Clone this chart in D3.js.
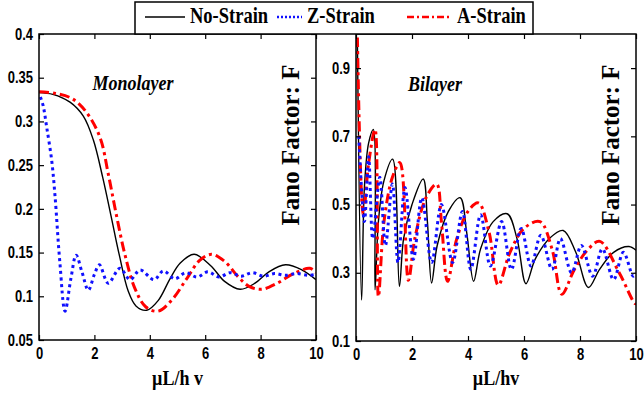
<!DOCTYPE html>
<html>
<head>
  <title>Fano factor: monolayer and bilayer</title>
  <script src="https://d3js.org/d3.v7.min.js"></script>
  <style>
    body { margin: 0; background: #fff; }
    svg { display: block; }
  </style>
</head>
<body>
<svg id="chart" width="644" height="403"></svg>
<script type="text/javascript">

  // ---- data ----
  var xTicks = [0, 2, 4, 6, 8, 10];
  var monoYTicks = [0.05, 0.1, 0.15, 0.2, 0.25, 0.3, 0.35, 0.4];
  var biYTicks = [0.1, 0.3, 0.5, 0.7, 0.9];
  var seriesNames = ["No-Strain", "Z-Strain", "A-Strain"];

  // monolayer, [x, F]
  var monoNoStrain = [[0,0.333],[0.5,0.331],[1.12,0.322],[1.6,0.306],[1.96,0.279],[2.3,0.236],
    [2.6,0.192],[2.9,0.147],[3.22,0.106],[3.5,0.089],[3.89,0.084],[4.3,0.095],[4.73,0.12],
    [5.1,0.138],[5.6,0.148],[6.2,0.135],[6.7,0.117],[7.26,0.108],[7.8,0.115],[8.3,0.128],
    [8.9,0.136],[9.5,0.13],[10,0.119]];
  var monoZStrain = [[0.05,0.328],[0.15,0.318],[0.28,0.293],[0.46,0.255],[0.58,0.214],[0.75,0.14],
    [0.94,0.083],[1.15,0.12],[1.34,0.147],[1.55,0.128],[1.78,0.107],[2.0,0.125],[2.18,0.136],
    [2.5,0.115],[2.92,0.132],[3.29,0.119],[3.65,0.13],[4.15,0.119],[4.49,0.129],[4.9,0.12],
    [5.3,0.127],[5.7,0.122],[6.1,0.128],[6.5,0.122],[6.9,0.127],[7.3,0.123],[7.7,0.127],
    [8.1,0.123],[8.5,0.126],[8.9,0.124],[9.3,0.126],[9.7,0.124],[10,0.125]];
  var monoAStrain = [[0,0.334],[0.6,0.332],[1.2,0.326],[1.7,0.311],[2.2,0.282],[2.5,0.24],
    [2.8,0.192],[3.1,0.148],[3.45,0.11],[3.85,0.088],[4.3,0.083],[4.8,0.096],[5.33,0.12],
    [5.8,0.141],[6.23,0.148],[6.7,0.14],[7.2,0.122],[7.6,0.111],[8.04,0.108],[8.6,0.115],
    [9.2,0.126],[9.78,0.132],[10,0.127]];

  // bilayer, [x, F]
  var biNoStrain = [[0.05,0.98],[0.2,0.22],[0.3,0.55],[0.45,0.68],[0.62,0.72],[0.68,0.25],
    [0.8,0.45],[1.0,0.57],[1.31,0.633],[1.55,0.26],[1.7,0.4],[2.0,0.5],[2.4,0.575],[2.55,0.45],
    [2.7,0.27],[2.9,0.38],[3.3,0.48],[3.72,0.52],[3.95,0.42],[4.2,0.275],[4.45,0.37],[4.9,0.45],
    [5.4,0.473],[5.75,0.4],[6.07,0.268],[6.4,0.34],[6.9,0.4],[7.4,0.424],[7.85,0.36],[8.3,0.257],
    [8.7,0.31],[9.2,0.36],[9.75,0.377],[10,0.366]];
  var biZStrain = [[0.1,0.7],[0.3,0.45],[0.45,0.64],[0.6,0.4],[0.85,0.58],[1.05,0.38],[1.3,0.56],
    [1.5,0.33],[1.75,0.55],[2.05,0.34],[2.35,0.52],[2.7,0.33],[3.05,0.5],[3.45,0.33],[3.8,0.48],
    [4.1,0.31],[4.45,0.47],[4.8,0.32],[5.2,0.45],[5.55,0.31],[5.9,0.43],[6.25,0.32],[6.6,0.41],
    [7.0,0.31],[7.3,0.4],[7.7,0.3],[8.05,0.38],[8.45,0.29],[8.8,0.37],[9.2,0.28],[9.55,0.36],
    [9.9,0.29],[10,0.3]];
  var biAStrain = [[0.05,0.99],[0.26,0.47],[0.45,0.62],[0.68,0.72],[0.8,0.23],[1.0,0.45],[1.3,0.58],
    [1.57,0.623],[1.87,0.278],[2.1,0.4],[2.5,0.52],[2.88,0.56],[3.05,0.45],[3.27,0.275],[3.6,0.4],
    [4.0,0.48],[4.37,0.505],[4.75,0.42],[5.08,0.264],[5.5,0.36],[6.0,0.43],[6.57,0.45],[7.0,0.37],
    [7.35,0.237],[7.8,0.31],[8.3,0.37],[8.71,0.392],[9.4,0.3],[9.96,0.21],[10,0.21]];

  var serif = "'Liberation Serif', 'Times New Roman', serif";
  var sans = "'Liberation Sans', Arial, sans-serif";

  var styles = {
    "No-Strain": { color: "#000", width: 1.4, dash: null },
    "Z-Strain": { color: "#1010ff", width: 3, dash: "3,3.5" },
    "A-Strain": { color: "#ff0000", width: 3, dash: "10,4,3,4" }
  };

  var svg = d3.select("#chart");

  // text with a slight vertical stretch, the original figure is squashed sideways
  function label(g, x, y, str, size, opts) {
    opts = opts || {};
    var t = g.append("text")
      .attr("transform", "translate(" + x + "," + y + ") scale(1," + (opts.sy || 1.2) + ")" +
        (opts.rotate ? " rotate(" + opts.rotate + ")" : ""))
      .attr("text-anchor", opts.anchor || "middle")
      .style("font-family", opts.family || serif)
      .style("font-weight", "bold")
      .style("font-size", size + "px")
      .text(str);
    if (opts.italic) t.style("font-style", "italic");
    return t;
  }

  function panel(id, box, yDomain, yTicks, yFmt, series, title, xTitle) {
    var x = d3.scaleLinear().domain([0, 10]).range([box.left, box.right]);
    var y = d3.scaleLinear().domain(yDomain).range([box.bottom, box.top]);
    var g = svg.append("g");

    g.append("clipPath").attr("id", "clip-" + id)
      .append("rect")
      .attr("x", box.left).attr("y", box.top)
      .attr("width", box.right - box.left).attr("height", box.bottom - box.top);

    var line = d3.line()
      .x(function(d) { return x(d[0]); })
      .y(function(d) { return y(d[1]); })
      .curve(d3.curveCatmullRom.alpha(0.5));

    var lines = g.append("g").attr("clip-path", "url(#clip-" + id + ")");
    series.forEach(function(s) {
      var st = styles[s.name];
      lines.append("path")
        .datum(s.values)
        .attr("d", line)
        .attr("fill", "none")
        .attr("stroke", st.color)
        .attr("stroke-width", st.width)
        .attr("stroke-dasharray", st.dash);
    });

    // frame with inward ticks on all sides
    var bottom = g.append("g").attr("transform", "translate(0," + box.bottom + ")")
      .call(d3.axisBottom(x).tickValues(xTicks).tickSize(-5).tickPadding(6).tickFormat(d3.format("d")));
    g.append("g").attr("transform", "translate(0," + box.top + ")")
      .call(d3.axisTop(x).tickValues(xTicks).tickSize(-5).tickFormat(""));
    var left = g.append("g").attr("transform", "translate(" + box.left + ",0)")
      .call(d3.axisLeft(y).tickValues(yTicks).tickSize(-5).tickPadding(6).tickFormat(yFmt));
    g.append("g").attr("transform", "translate(" + box.right + ",0)")
      .call(d3.axisRight(y).tickValues(yTicks).tickSize(-5).tickFormat(""));

    g.selectAll(".domain").remove();
    g.selectAll(".tick line").attr("stroke", "#000").attr("stroke-width", 1.2);
    [bottom, left].forEach(function(a) {
      a.selectAll("text")
        .attr("transform", "scale(1,1.25)")
        .style("font-family", sans)
        .style("font-weight", "bold")
        .style("font-size", "13px")
        .attr("fill", "#000");
    });

    g.append("rect")
      .attr("x", box.left).attr("y", box.top)
      .attr("width", box.right - box.left).attr("height", box.bottom - box.top)
      .attr("fill", "none").attr("stroke", "#000").attr("stroke-width", 1.5);

    label(g, title.x, title.y, title.text, 18, { italic: true, sy: 1.15 });
    label(g, (box.left + box.right) / 2, 385, xTitle, 18, { sy: 1.2 });
    label(g, box.right - 26, 145, "Fano Factor: F", 25, { rotate: -90, sy: 1 })
      .attr("dy", "0.35em");
  }

  panel("mono", { left: 39, right: 316, top: 34, bottom: 340 }, [0.05, 0.4], monoYTicks,
    function(d) { return d3.format("")(+d.toFixed(2)); },
    [{ name: "No-Strain", values: monoNoStrain },
     { name: "A-Strain", values: monoAStrain },
     { name: "Z-Strain", values: monoZStrain }],
    { text: "Monolayer", x: 133, y: 90 }, "\u00b5L/h v");

  panel("bi", { left: 356, right: 636, top: 34, bottom: 341 }, [0.1, 1.0], biYTicks,
    function(d) { return d3.format("")(+d.toFixed(1)); },
    [{ name: "No-Strain", values: biNoStrain },
     { name: "A-Strain", values: biAStrain },
     { name: "Z-Strain", values: biZStrain }],
    { text: "Bilayer", x: 435, y: 91 }, "\u00b5L/hv");

  // legend box across the top
  var leg = svg.append("g");
  leg.append("rect")
    .attr("x", 135).attr("y", 2).attr("width", 398).attr("height", 32)
    .attr("fill", "#fff").attr("stroke", "#000").attr("stroke-width", 1.5);
  var legX = [145, 277, 407];
  var legLen = [40, 25, 45];
  seriesNames.forEach(function(name, i) {
    var st = styles[name];
    leg.append("line")
      .attr("x1", legX[i]).attr("x2", legX[i] + legLen[i])
      .attr("y1", 17).attr("y2", 17)
      .attr("stroke", st.color)
      .attr("stroke-width", name == "No-Strain" ? 1.4 : 2.5)
      .attr("stroke-dasharray", name == "Z-Strain" ? "2,2" : (name == "A-Strain" ? "7,3,2,3" : null));
    label(leg, legX[i] + legLen[i] + 5, 23, name, 18.5, { anchor: "start", sy: 1.2 });
  });

</script>
</body>
</html>
